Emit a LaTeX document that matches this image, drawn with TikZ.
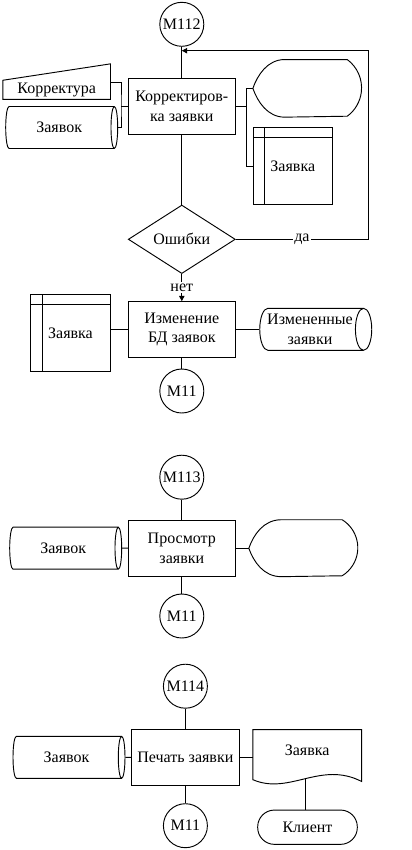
\documentclass[tikz,border=0pt]{standalone}
\usepackage{fontspec}
\setmainfont{Liberation Serif}
\usetikzlibrary{shapes.geometric,arrows.meta}

\begin{document}
\begin{tikzpicture}[
    x=0.75pt, y=-0.75pt,
    line width=0.7pt,
    every node/.style={font=\fontsize{12}{14.5}\selectfont, align=center},
    proc/.style={draw, rectangle, minimum width=80.25pt, minimum height=42pt, inner sep=1pt},
    conn/.style={draw, circle, minimum size=33pt, inner sep=0pt},
    decide/.style={draw, diamond, minimum width=80.25pt, minimum height=41pt, inner sep=0pt},
    disk/.style={draw, cylinder, shape aspect=0.5, minimum height=84pt, minimum width=31.5pt, inner sep=1pt},
    storage/.style={draw, rectangle, minimum width=59.5pt, minimum height=58pt, inner sep=0pt,
        path picture={
            \draw ([xshift=8.8pt]path picture bounding box.north west) -- ([xshift=8.8pt]path picture bounding box.south west);
            \draw ([yshift=-7.8pt]path picture bounding box.north west) -- ([yshift=-7.8pt]path picture bounding box.north east);
        }},
    term/.style={draw, rectangle, rounded corners=12.5pt, minimum width=74.7pt, minimum height=25.7pt, inner sep=1pt},
    blank/.style={rectangle, inner sep=0pt},
    lab/.style={fill=white, inner sep=1pt},
    tip/.style={-{Triangle[length=4pt,width=4pt]}}
]
    \useasboundingbox (0,0) rectangle (411,850);

    % Block M112: correction
    \node[conn] (m112) at (181.8,24.3) {М112};
    \node[proc] (box1) at (181.8,106.3) {Корректиров-\\ка заявки};
    \node[blank, minimum width=80pt, minimum height=13.7pt] (korr) at (56.7,89.85) {Корректура};
    \node[disk] (zv1) at (59.2,127.5) {Заявок};
    \node[blank, minimum width=80.8pt, minimum height=42.5pt] (disp1) at (307.2,88.35) {};
    \node[storage] (ist1) at (292.8,166.2) {Заявка};
    \node[decide] (err) at (181.8,239.3) {Ошибки};

    % Manual input outline
    \draw (korr.south west) -- (korr.north west) -- ([yshift=12.3pt]korr.north east) -- (korr.south east) -- cycle;
    % Display outline
    \draw (disp1.west) .. controls ([xshift=3.5pt,yshift=10pt]disp1.west) and ([xshift=11pt]disp1.north west) .. ([xshift=23.8pt]disp1.north west)
        -- ([xshift=-10.7pt]disp1.north east) arc[start angle=53.6, end angle=-53.6, radius=26.4pt]
        -- ([xshift=23.8pt]disp1.south west) .. controls ([xshift=11pt]disp1.south west) and ([xshift=3.5pt,yshift=-10pt]disp1.west) .. (disp1.west);

    % Connectors
    \coordinate (lj1) at (121,106.3);
    \coordinate (rj1) at (246.7,106.3);
    \coordinate (back) at (181.8,50.7);
    \coordinate (loop) at (368,50.7);
    \draw (m112) -- (box1);
    \draw (box1) -- (err);
    \draw (box1.west) -- (lj1);
    \draw ([yshift=5.6pt]korr.east) -| (lj1) |- (zv1.east);
    \draw (box1.east) -- (rj1);
    \draw (disp1.west) -| (rj1) |- (ist1.west);
    \draw[tip] (err.east) -- node[lab] {да} (err.east -| loop) -- (loop) -- (back);

    % Block: update of the base
    \node[proc] (box2) at (181.8,329.7) {Изменение\\БД заявок};
    \node[storage] (ist2) at (70.5,332.8) {Заявка};
    \node[disk] (cyl2) at (310,329.3) {Измененные\\заявки};
    \node[conn] (m11a) at (181.8,391) {М11};

    \draw[tip] (err.south) -- node[lab] {нет} (box2.north);
    \draw (ist2.east |- box2.west) -- (box2.west);
    \draw (box2.east) -- (box2.east -| cyl2.west);
    \draw (box2) -- (m11a);

    % Block M113: view
    \node[conn] (m113) at (181.8,477.2) {М113};
    \node[proc] (box3) at (181.8,548.2) {Просмотр\\заявки};
    \node[disk] (zv2) at (63.2,548.2) {Заявок};
    \node[blank, minimum width=81pt, minimum height=42pt] (disp2) at (303.3,548.2) {};
    \node[conn] (m11b) at (181.8,616) {М11};

    \draw (disp2.west) .. controls ([xshift=3.5pt,yshift=10pt]disp2.west) and ([xshift=11pt]disp2.north west) .. ([xshift=24.3pt]disp2.north west)
        -- ([xshift=-11.7pt]disp2.north east) arc[start angle=58.3, end angle=-58.3, radius=24.7pt]
        -- ([xshift=24.3pt]disp2.south west) .. controls ([xshift=11pt]disp2.south west) and ([xshift=3.5pt,yshift=-10pt]disp2.west) .. (disp2.west);

    \draw (m113) -- (box3);
    \draw (box3) -- (m11b);
    \draw (zv2.east) -- (box3.west);
    \draw (box3.east) -- (disp2.west);

    % Block M114: print
    \node[conn] (m114) at (185.4,686.2) {М114};
    \node[proc, minimum width=80.7pt] (box4) at (185.4,757.3) {Печать заявки};
    \node[disk] (zv3) at (66.5,757.3) {Заявок};
    \node[blank, minimum width=80.8pt, minimum height=31pt] (doc3) at (307.2,750.7) {Заявка};
    \node[term] (klient) at (307.5,827.2) {Клиент};
    \node[conn] (m11c) at (185.4,825.7) {М11};

    % Document outline
    \draw (doc3.north west) -- (doc3.north east) -- ([yshift=-7.2pt]doc3.south east)
        .. controls ([xshift=-30.75pt,yshift=8.55pt]doc3.south east) and ([xshift=27.5pt,yshift=-17.7pt]doc3.south west) .. ([yshift=-5.9pt]doc3.south west)
        coordinate[pos=0.5] (docb) -- cycle;

    \draw (m114) -- (box4);
    \draw (box4) -- (m11c);
    \draw (zv3.east) -- (box4.west);
    \draw (box4.east) -- (doc3.west |- box4.east);
    \draw (docb) -- (docb |- klient.north);

\end{tikzpicture}
\end{document}
